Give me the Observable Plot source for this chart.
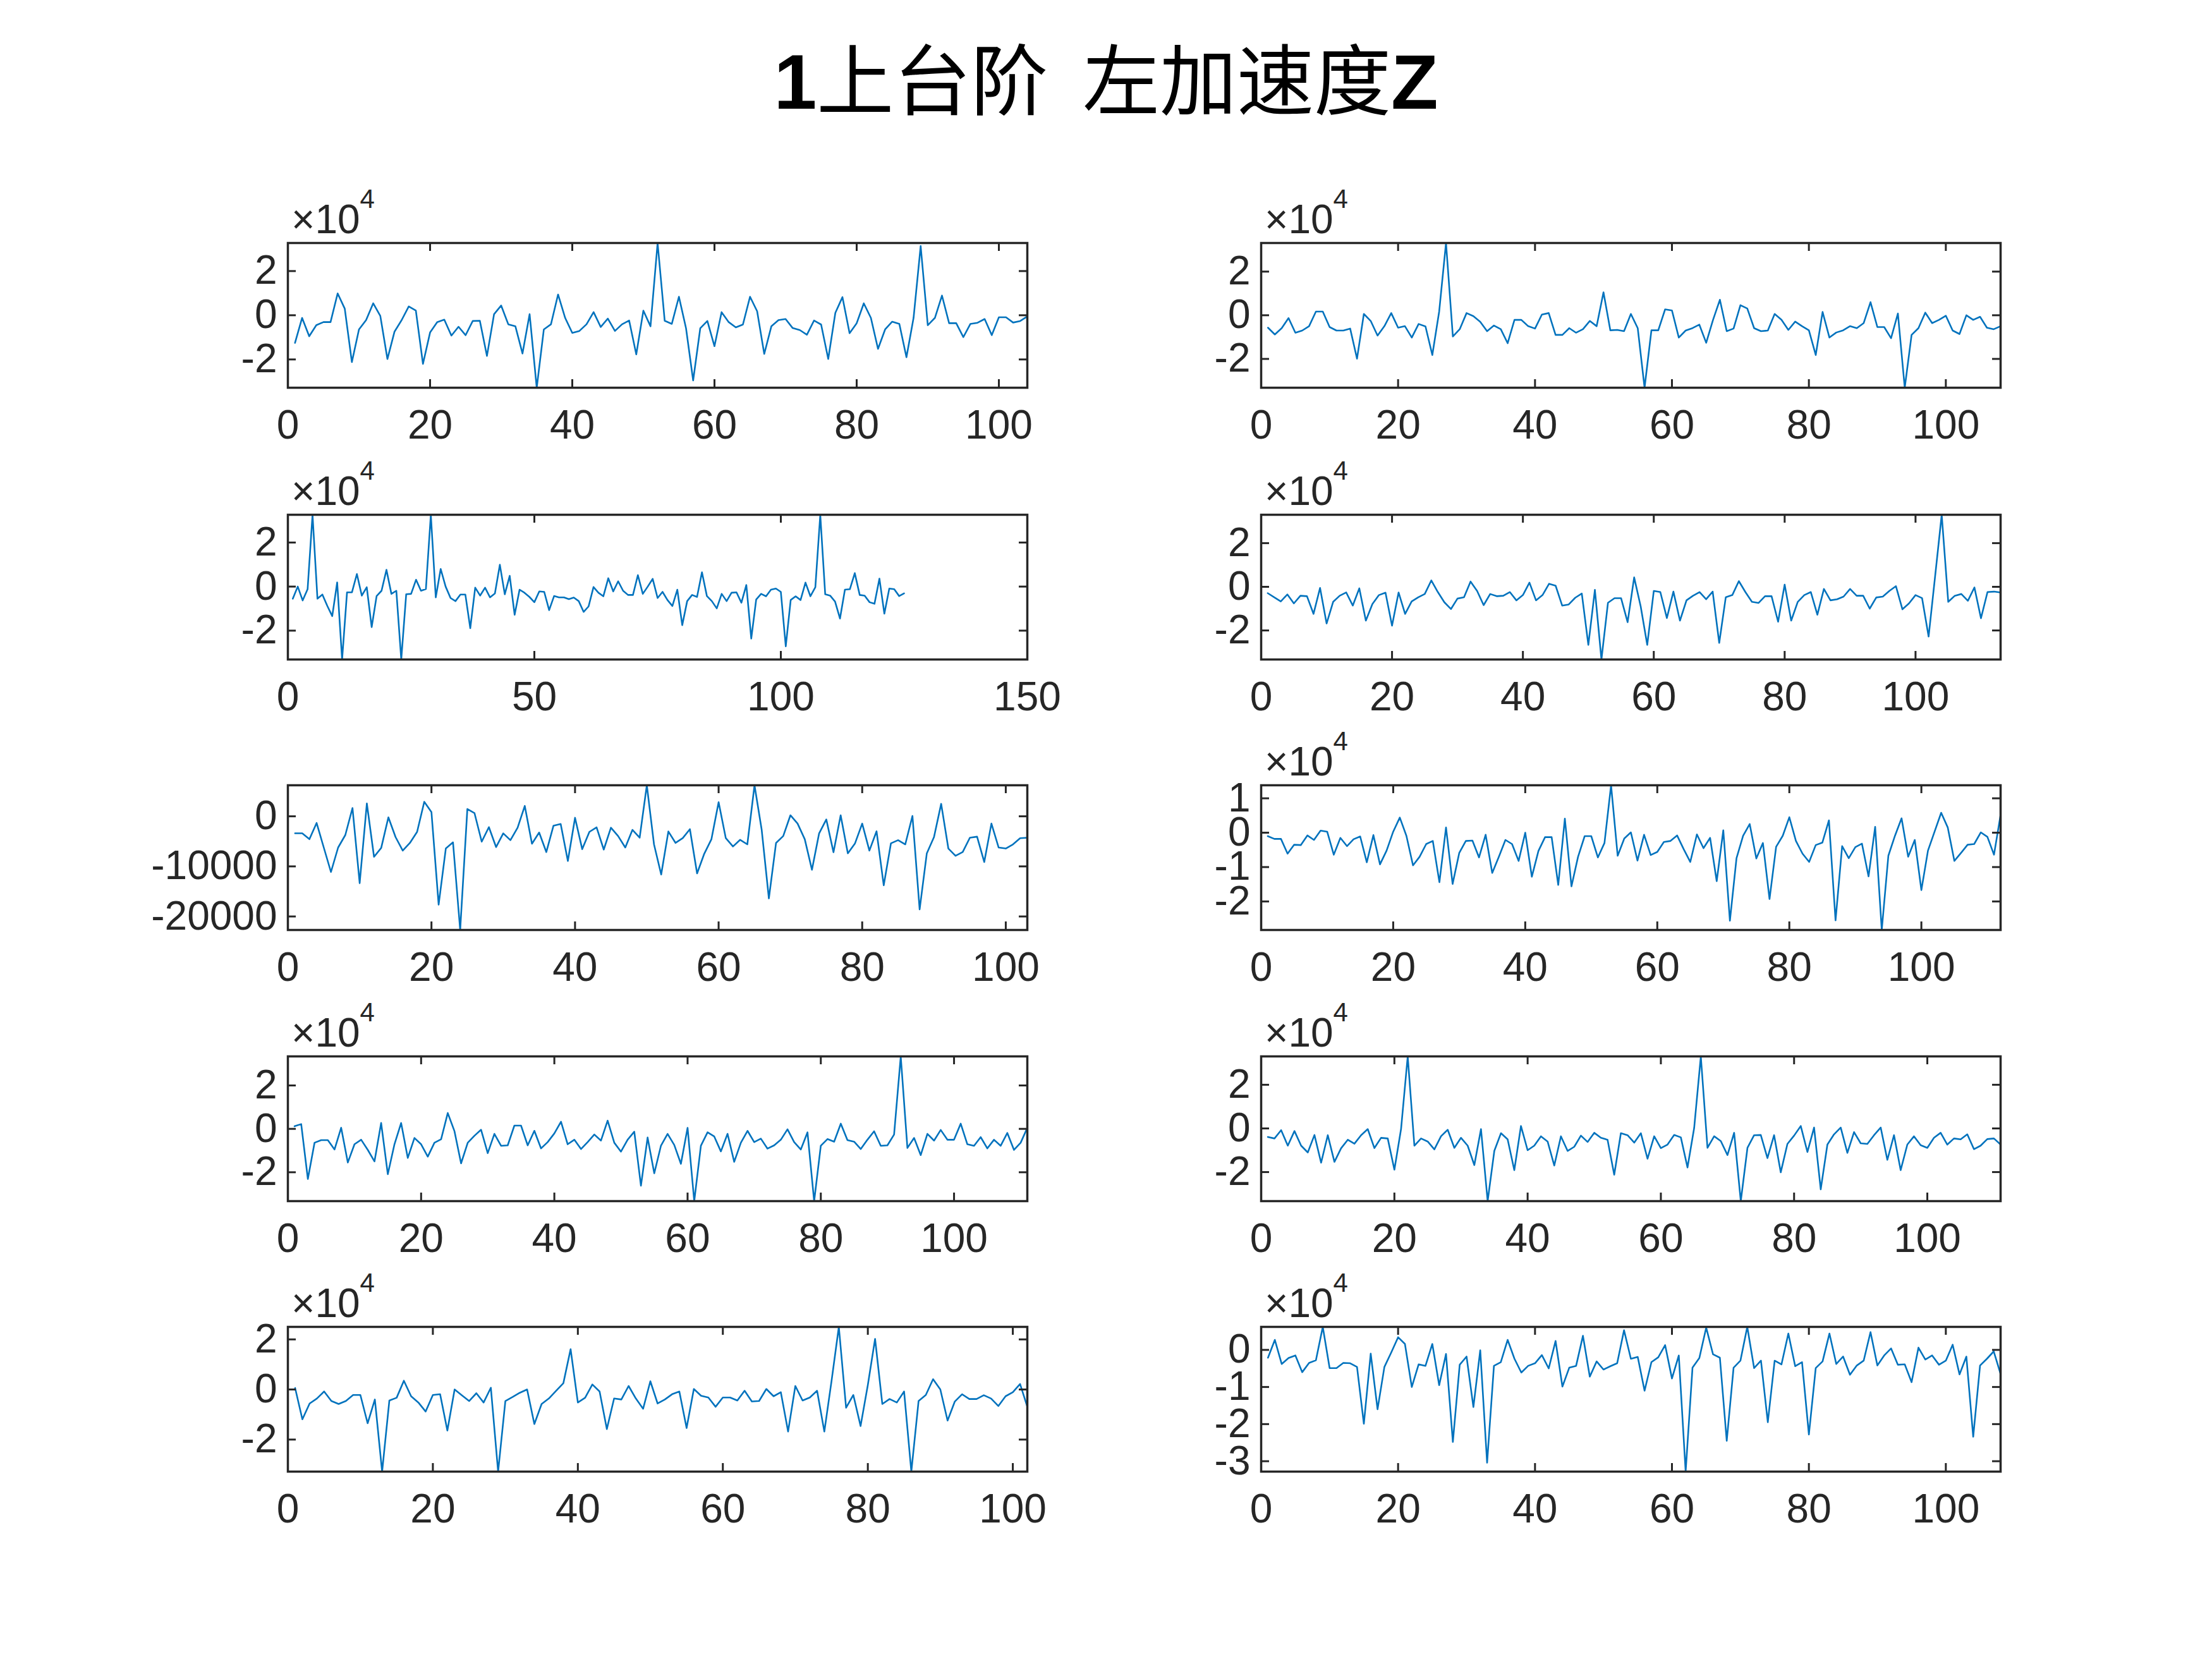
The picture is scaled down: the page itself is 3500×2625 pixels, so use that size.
<!DOCTYPE html>
<html><head><meta charset="utf-8">
<script src="https://cdn.jsdelivr.net/npm/d3@7"></script>
<script src="https://cdn.jsdelivr.net/npm/@observablehq/plot@0.6"></script>
<style>
body{margin:0;background:#fff}
#fig{position:relative;width:3500px;height:2625px;background:#fff;overflow:hidden}
</style></head><body><div id="fig"></div>
<script>
// ---- data (values in units of 10^exponent) ----
const titleNum = "1";
const titleText = "上台阶\u00a0\u00a0左加速度";
const titleEnd = "Z";

const s1 = [-1.25,-0.12,-0.95,-0.45,-0.31,-0.31,0.99,0.30,-2.12,-0.64,
-0.22,0.54,-0.03,-1.98,-0.74,-0.22,0.40,0.21,-2.2,-0.78,
-0.31,-0.2,-0.92,-0.52,-0.9,-0.26,-0.25,-1.84,0.05,0.44,
-0.41,-0.5,-1.73,0.05,-3.28,-0.64,-0.41,0.94,-0.12,-0.8,
-0.71,-0.41,0.14,-0.53,-0.15,-0.71,-0.41,-0.24,-1.77,0.21,
-0.5,3.27,-0.25,-0.39,0.84,-0.59,-2.95,-0.59,-0.26,-1.4,
0.14,-0.31,-0.55,-0.42,0.84,0.18,-1.75,-0.5,-0.22,-0.17,
-0.58,-0.67,-0.88,-0.24,-0.42,-1.98,0.11,0.82,-0.81,-0.36,
0.54,-0.12,-1.52,-0.64,-0.29,-0.39,-1.9,-0.12,3.13,-0.45,
-0.12,0.89,-0.36,-0.36,-0.99,-0.39,-0.34,-0.17,-0.9,-0.09,
-0.09,-0.33,-0.26,-0.05];

const s2 = [-0.57,-0.88,-0.59,-0.13,-0.8,-0.7,-0.5,0.17,0.17,-0.54,
-0.7,-0.7,-0.61,-1.99,0.06,-0.26,-0.93,-0.5,0.1,-0.57,
-0.5,-1.02,-0.4,-0.51,-1.82,0.17,3.31,-0.97,-0.64,0.1,
-0.04,-0.3,-0.73,-0.47,-0.64,-1.28,-0.21,-0.21,-0.5,-0.61,
0.03,0.1,-0.9,-0.9,-0.59,-0.8,-0.64,-0.26,-0.5,1.05,
-0.69,-0.67,-0.73,0.06,-0.59,-3.32,-0.69,-0.69,0.27,0.22,
-1.02,-0.7,-0.59,-0.43,-1.26,-0.21,0.71,-0.73,-0.61,0.46,
0.31,-0.59,-0.73,-0.7,0.06,-0.21,-0.67,-0.29,-0.5,-0.69,
-1.82,0.15,-1.02,-0.79,-0.69,-0.5,-0.59,-0.36,0.6,-0.54,
-0.54,-1.05,0.08,-3.32,-0.9,-0.59,0.12,-0.36,-0.21,-0.02,
-0.7,-0.86,0,-0.21,-0.07,-0.57,-0.64,-0.5];

const s3 = [-0.55,0,-0.63,-0.12,3.26,-0.55,-0.36,-0.88,-1.34,0.19,
-3.31,-0.26,-0.26,0.57,-0.41,-0.03,-1.84,-0.43,-0.19,0.76,
-0.33,-0.19,-3.31,-0.35,-0.33,0.31,-0.19,-0.11,3.26,-0.49,
0.8,0,-0.52,-0.66,-0.36,-0.36,-1.89,-0.05,-0.41,-0.05,
-0.49,-0.31,0.99,-0.35,0.49,-1.28,-0.14,-0.28,-0.47,-0.71,
-0.22,-0.24,-1.07,-0.43,-0.49,-0.49,-0.57,-0.5,-0.66,-1.15,
-0.9,-0.02,-0.28,-0.44,0.38,-0.22,0.24,-0.19,-0.38,-0.38,
0.52,-0.33,0,0.35,-0.52,-0.24,-0.61,-0.88,-0.14,-1.75,
-0.66,-0.38,-0.47,0.65,-0.43,-0.66,-0.99,-0.33,-0.66,-0.28,
-0.26,-0.73,0.07,-2.36,-0.59,-0.33,-0.44,-0.14,-0.09,-0.24,
-2.71,-0.61,-0.44,-0.61,0.18,-0.44,-0.03,3.26,-0.35,-0.41,
-0.68,-1.45,-0.14,-0.12,0.61,-0.38,-0.41,-0.71,-0.78,0.36,
-1.23,-0.09,-0.12,-0.43,-0.31];

const s4 = [-0.29,-0.48,-0.67,-0.35,-0.76,-0.41,-0.43,-1.24,-0.05,-1.68,
-0.69,-0.41,-0.26,-0.86,-0.07,-1.55,-0.79,-0.38,-0.27,-1.78,
-0.26,-1.24,-0.67,-0.48,-0.33,0.29,-0.24,-0.71,-1.02,-0.54,
-0.48,0.24,-0.19,-0.84,-0.33,-0.43,-0.41,-0.24,-0.62,-0.38,
0.19,-0.62,-0.38,0.14,0.05,-0.86,-0.81,-0.5,-0.31,-2.66,
-0.14,-3.33,-0.73,-0.52,-0.52,-1.62,0.43,-0.9,-2.66,-0.19,
-0.24,-1.43,-0.22,-1.55,-0.62,-0.41,-0.24,-0.57,-0.22,-2.57,
-0.48,-0.38,0.26,-0.24,-0.69,-0.74,-0.43,-0.43,-1.6,0.1,
-1.55,-0.69,-0.38,-0.24,-1.28,-0.1,-0.62,-0.57,-0.45,-0.1,
-0.41,-0.41,-1.0,-0.49,-0.45,-0.19,0.03,-1.03,-0.76,-0.38,
-0.52,-2.28,0.5,3.3,-0.69,-0.41,-0.33,-0.64,-0.03,-1.44,
-0.24,-0.22,-0.26];

const s5 = [-3400,-3400,-4570,-1330,-6230,-11120,-6230,-3740,1660,-13360,
2570,-8090,-6310,-210,-4150,-6850,-5310,-3110,2900,830,
-17640,-6430,-5190,-22700,1450,620,-5060,-2160,-6140,-3400,
-4770,-2280,2080,-5480,-3240,-7140,-1870,-1540,-8920,-290,
-6560,-3110,-2200,-6640,-2280,-3940,-6230,-2700,-4270,6200,
-5600,-11620,-3030,-5310,-4360,-2570,-11410,-7470,-4570,2820,
-4360,-6020,-4690,-5600,6200,-2700,-16390,-5310,-3940,210,
-1450,-4570,-10670,-3400,-620,-7180,210,-7390,-5400,-1450,
-6850,-2990,-13780,-5400,-4770,-5600,80,-18590,-7390,-4150,
2490,-6430,-7890,-7140,-4270,-4070,-9130,-1450,-6230,-6430,
-5600,-4360,-4270];

const s6 = [-0.1,-0.18,-0.18,-0.61,-0.35,-0.36,-0.08,-0.21,0.06,0.03,
-0.64,-0.15,-0.39,-0.19,-0.11,-0.86,-0.07,-0.92,-0.52,0.03,
0.44,-0.09,-0.95,-0.7,-0.33,-0.24,-1.44,0.15,-1.49,-0.59,
-0.24,-0.23,-0.72,-0.06,-1.17,-0.7,-0.21,-0.33,-0.82,0,
-1.28,-0.53,-0.13,-0.13,-1.52,0.41,-1.56,-0.7,-0.1,-0.1,
-0.72,-0.3,1.38,-0.67,-0.17,0.01,-0.81,-0.06,-0.65,-0.56,
-0.27,-0.24,-0.08,-0.48,-0.85,-0.05,-0.45,-0.15,-1.41,0.07,
-2.56,-0.74,-0.09,0.25,-0.75,-0.3,-1.93,-0.41,-0.09,0.45,
-0.24,-0.61,-0.85,-0.36,-0.29,0.36,-2.55,-0.39,-0.74,-0.42,
-0.32,-1.27,0.17,-2.83,-0.67,-0.09,0.42,-0.7,-0.21,-1.67,
-0.52,0.03,0.58,0.15,-0.82,-0.59,-0.35,-0.33,0.01,-0.12,
-0.64,0.52];

const s7 = [0.12,0.22,-2.31,-0.64,-0.52,-0.52,-0.95,0.05,-1.55,-0.71,
-0.5,-0.97,-1.5,0.27,-2.09,-0.71,0.27,-1.34,-0.42,-0.71,
-1.28,-0.64,-0.48,0.73,-0.1,-1.59,-0.64,-0.32,-0.04,-1.12,
-0.23,-0.78,-0.76,0.15,0.15,-0.76,-0.09,-0.9,-0.61,-0.21,
0.33,-0.71,-0.5,-0.93,-0.61,-0.26,-0.54,0.38,-0.64,-1.05,
-0.5,-0.13,-2.62,-0.4,-2.05,-0.78,-0.23,-0.74,-1.61,0.05,
-3.33,-0.78,-0.16,-0.35,-1.04,-0.23,-1.52,-0.64,-0.09,-0.61,
-0.45,-0.91,-0.76,-0.5,-0.02,-0.61,-0.95,-0.16,-3.33,-0.78,
-0.47,-0.59,0.24,-0.52,-0.59,-0.93,-0.5,-0.11,-0.78,-0.76,
-0.26,3.34,-0.88,-0.42,-1.21,-0.23,-0.54,-0.05,-0.5,-0.5,
0.24,-0.71,-0.78,-0.38,-0.9,-0.5,-0.78,-0.19,-0.97,-0.64,
0.05];

const s8 = [-0.39,-0.46,-0.08,-0.79,-0.12,-0.79,-1.1,-0.3,-1.57,-0.31,
-1.53,-0.91,-0.52,-0.7,-0.31,-0.03,-0.9,-0.43,-0.46,-1.89,
-0.03,3.3,-0.79,-0.46,-0.6,-0.96,-0.36,-0.06,-0.89,-0.43,
-0.79,-1.68,-0.03,-3.33,-1.03,-0.22,-0.5,-1.91,0.11,-1.0,
-0.79,-0.36,-0.6,-1.7,-0.36,-1.03,-0.84,-0.33,-0.62,-0.2,
-0.43,-0.52,-2.12,-0.22,-0.31,-0.65,-0.22,-1.39,-0.36,-0.9,
-0.74,-0.3,-0.41,-1.79,0.02,3.3,-0.89,-0.36,-0.58,-1.22,
-0.2,-3.33,-0.89,-0.31,-0.3,-1.36,-0.31,-2.01,-0.71,-0.33,
0.11,-1.08,0.04,-2.79,-0.74,-0.27,0.04,-1.12,-0.17,-0.68,
-0.71,-0.31,0.04,-1.44,-0.31,-1.91,-0.74,-0.36,-0.77,-0.89,
-0.43,-0.2,-0.74,-0.46,-0.5,-0.27,-0.95,-0.79,-0.49,-0.46,
-0.74];

const s9 = [0.06,-1.19,-0.56,-0.36,-0.08,-0.46,-0.58,-0.46,-0.22,-0.22,
-1.35,-0.4,-3.28,-0.44,-0.33,0.35,-0.27,-0.52,-0.88,-0.22,
-0.19,-1.64,0,-0.23,-0.46,-0.15,-0.52,0.07,-3.28,-0.46,
-0.3,-0.13,0,-1.38,-0.58,-0.36,-0.05,0.25,1.61,-0.52,
-0.33,0.2,-0.08,-1.58,-0.36,-0.4,0.14,-0.36,-0.77,0.33,
-0.56,-0.4,-0.19,-0.08,-1.54,0.02,-0.25,-0.32,-0.69,-0.32,
-0.32,-0.44,-0.05,-0.48,-0.46,0.02,-0.27,-0.11,-1.68,0.14,
-0.44,-0.32,-0.05,-1.68,0.35,2.5,-0.73,-0.22,-1.46,0.18,
2.02,-0.58,-0.38,-0.52,-0.08,-3.28,-0.46,-0.22,0.41,0,
-1.24,-0.48,-0.19,-0.38,-0.38,-0.23,-0.36,-0.66,-0.27,-0.11,
0.22,-0.69];

const s10 = [-0.21,0.27,-0.38,-0.22,-0.15,-0.6,-0.35,-0.28,0.62,-0.49,
-0.49,-0.35,-0.36,-0.46,-1.99,-0.1,-1.6,-0.46,-0.07,0.34,
0.16,-1.0,-0.39,-0.43,0.16,-0.95,-0.11,-2.48,-0.4,-0.18,
-1.54,-0.01,-3.04,-0.43,-0.33,0.27,-0.24,-0.61,-0.43,-0.36,
-0.14,-0.5,0.24,-0.99,-0.48,-0.43,0.38,-0.72,-0.31,-0.53,
-0.44,-0.36,0.53,-0.24,-0.19,-1.1,-0.33,-0.2,0.13,-0.77,
-0.15,-3.28,-0.48,-0.22,0.6,-0.12,-0.21,-2.45,-0.48,-0.29,
0.62,-0.49,-0.29,-1.95,-0.29,-0.39,0.44,-0.44,-0.33,-2.28,
-0.49,-0.31,0.44,-0.38,-0.18,-0.67,-0.42,-0.29,0.48,-0.42,
-0.15,0.04,-0.4,-0.39,-0.87,0.06,-0.26,-0.15,-0.4,-0.29,
0.14,-0.66,-0.18,-2.34,-0.42,-0.24,-0.04,-0.65];

const series = [s1, s2, s3, s4, s5, s6, s7, s8, s9, s10];
const exponents = [4, 4, 4, 4, 0, 4, 4, 4, 4, 4];
const xLimits = [104, 108, 150, 113, 103, 112, 111, 111, 102, 108];
const xTicks = [
  [0,20,40,60,80,100],[0,20,40,60,80,100],[0,50,100,150],[0,20,40,60,80,100],
  [0,20,40,60,80,100],[0,20,40,60,80,100],[0,20,40,60,80,100],[0,20,40,60,80,100],
  [0,20,40,60,80,100],[0,20,40,60,80,100]];
const yTicks = [
  [-2,0,2],[-2,0,2],[-2,0,2],[-2,0,2],[-20000,-10000,0],[-2,-1,0,1],
  [-2,0,2],[-2,0,2],[-2,0,2],[-3,-2,-1,0]];

// ---- layout ----
const colLeft = [455, 1995];
const rowTop = [384, 814, 1242, 1671, 2099];
const axW = 1170, axH = 229;
const mL = 300, mR = 40, mT = 30, mB = 110;
const ink = "#262626";
const lineColor = "#0072BD";
const tickFont = "'Liberation Sans', Arial, Helvetica, sans-serif";

const fig = document.getElementById("fig");

series.forEach((data, i) => {
  const row = Math.floor(i / 2), col = i % 2;
  const xt = xTicks[i], yt = yTicks[i];
  const svg = Plot.plot({
    width: mL + axW + mR,
    height: mT + axH + mB,
    marginLeft: mL, marginRight: mR, marginTop: mT, marginBottom: mB,
    x: {domain: [0, xLimits[i]]},
    y: {domain: d3.extent(data)},
    style: {fontFamily: tickFont, fontSize: "64px", color: ink, background: "transparent", overflow: "visible"},
    marks: [
      Plot.lineY(data, {x: (d, j) => j + 1, y: d => d, stroke: lineColor, strokeWidth: 2.6}),
      Plot.tickX(xt, {x: d => d, insetTop: axH - 13, stroke: ink, strokeWidth: 3}),
      Plot.tickX(xt, {x: d => d, insetBottom: axH - 13, stroke: ink, strokeWidth: 3}),
      Plot.tickY(yt, {y: d => d, insetRight: axW - 13, stroke: ink, strokeWidth: 3}),
      Plot.tickY(yt, {y: d => d, insetLeft: axW - 13, stroke: ink, strokeWidth: 3}),
      Plot.frame({stroke: ink, strokeWidth: 3.5}),
      Plot.axisX({ticks: xt, tickSize: 0, tickPadding: 35, tickFormat: d => String(d), fill: ink}),
      Plot.axisY({ticks: yt, tickSize: 0, tickPadding: 17, tickFormat: d => String(d), fill: ink})
    ]
  });
  svg.style.position = "absolute";
  svg.style.left = (colLeft[col] - mL) + "px";
  svg.style.top = (rowTop[row] - mT) + "px";
  fig.appendChild(svg);
});

// ---- overlay: title and exponent labels ----
const overlay = d3.create("svg")
  .attr("width", 3500).attr("height", 2625)
  .style("position", "absolute").style("left", "0px").style("top", "0px")
  .style("pointer-events", "none");

const t = overlay.append("text")
  .attr("x", 1750).attr("y", 172)
  .attr("text-anchor", "middle")
  .attr("font-size", 122)
  .attr("fill", "#000");
t.append("tspan").attr("font-family", "'Liberation Sans', Arial, sans-serif").attr("font-weight", "bold").text(titleNum);
t.append("tspan").attr("font-family", "'Noto Sans CJK SC', sans-serif").text(titleText);
t.append("tspan").attr("font-family", "'Liberation Sans', Arial, sans-serif").attr("font-weight", "bold").text(titleEnd);

series.forEach((data, i) => {
  if (exponents[i] === 0) return;
  const row = Math.floor(i / 2), col = i % 2;
  const e = overlay.append("text")
    .attr("x", colLeft[col] + 6).attr("y", rowTop[row] - 15)
    .attr("font-family", tickFont).attr("font-size", 64).attr("fill", ink);
  e.append("tspan").text("\u00d710");
  e.append("tspan").attr("font-size", 42).attr("dy", -40).text(String(exponents[i]));
});

fig.appendChild(overlay.node());
</script></body></html>
